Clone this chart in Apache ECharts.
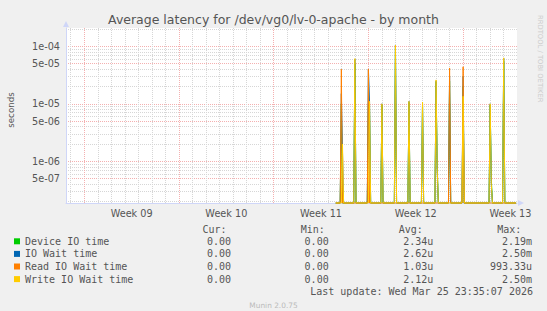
<!DOCTYPE html>
<html><head><meta charset="utf-8">
<script src="https://cdn.jsdelivr.net/npm/echarts@6/dist/echarts.min.js"></script>
<style>html,body{margin:0;padding:0;background:#F0F0F0;}#c{width:547px;height:311px;}</style>
</head><body><div id="c"></div>
<script>
// ---- data ----
const seriesNames = ['Device IO time', 'IO Wait time', 'Read IO Wait time', 'Write IO Wait time'];
const seriesColors = ['#00CC00', '#0066B3', '#FF8000', '#FFCC00'];
// 2-hour samples that are non-zero (all other samples are 0)
const sampleTimes = ['2026-03-13 00:00', '2026-03-13 02:00', '2026-03-14 00:00', '2026-03-15 00:00',
  '2026-03-15 02:00', '2026-03-16 00:00', '2026-03-17 00:00', '2026-03-18 00:00', '2026-03-19 00:00',
  '2026-03-20 00:00', '2026-03-20 02:00', '2026-03-21 00:00', '2026-03-22 00:00', '2026-03-24 00:00',
  '2026-03-24 02:00', '2026-03-25 00:00'];
const deviceIO  = [1.0e-5, 0, 5.0e-5, 1.0e-5, 8.0e-6, 9.5e-6, 1.0e-4, 1.05e-5, 1.0e-5, 2.4e-5, 9.0e-7, 2.5e-5, 2.0e-5, 9.5e-6, 5.0e-7, 5.5e-5];
const ioWait    = [1.5e-5, 1.5e-6, 6.0e-5, 4.0e-5, 1.1e-5, 1.0e-5, 1.05e-4, 1.1e-5, 1.05e-5, 2.5e-5, 7.0e-7, 3.0e-5, 3.0e-5, 1.0e-5, 4.0e-7, 6.2e-5];
const readWait  = [4.0e-5, 0, 0, 4.0e-5, 0, 0, 0, 0, 0, 0, 0, 4.2e-5, 4.4e-5, 0, 0, 0];
const writeWait = [0, 2.0e-6, 6.1e-5, 0, 1.1e-5, 1.0e-5, 1.05e-4, 1.1e-5, 1.07e-5, 2.6e-5, 8.0e-7, 0, 1.35e-5, 1.0e-5, 4.0e-7, 6.3e-5];
const dataStart = '2026-03-12 14:00';
const dataEnd = '2026-03-25 22:00';
const stepHours = 2;

const curValues = ['0.00', '0.00', '0.00', '0.00'];
const minValues = ['0.00', '0.00', '0.00', '0.00'];
const avgValues = ['2.34u', '2.62u', '1.03u', '2.12u'];
const maxValues = ['2.19m', '2.50m', '993.33u', '2.50m'];

const xStart = '2026-02-20 15:35:07';
const xEnd = '2026-03-25 23:35:07';
const weekStartTimes = ['2026-02-22 00:00', '2026-03-01 00:00', '2026-03-08 00:00', '2026-03-15 00:00', '2026-03-22 00:00'];
const weekLabelTimes = ['2026-02-25 12:00', '2026-03-04 12:00', '2026-03-11 12:00', '2026-03-18 12:00', '2026-03-25 12:00'];
const weekLabels = ['Week 09', 'Week 10', 'Week 11', 'Week 12', 'Week 13'];

const yMin = 1.884e-7, yMax = 2.08e-4;
const yLabelValues = [5e-7, 1e-6, 5e-6, 1e-5, 5e-5, 1e-4];
const yLabels = ['5e-07', '1e-06', '5e-06', '1e-05', '5e-05', '1e-04'];
const yMinorMultipliers = [2, 3, 4, 6, 7, 8, 9];

// ---- helpers ----
function T(s) {
  const [d, tm] = s.split(' ');
  const [Y, M, D] = d.split('-').map(Number);
  const [h, mi, se] = tm.split(':').map(Number);
  return Date.UTC(Y, M - 1, D, h, mi, se || 0);
}
const X0 = T(xStart), X1 = T(xEnd);
const STEP = stepHours * 3600000;

function buildSeries(values) {
  const map = new Map();
  map.set(T(dataStart), 0);
  map.set(T(dataEnd), 0);
  sampleTimes.forEach(s => {
    const t = T(s);
    if (!map.has(t - STEP)) map.set(t - STEP, 0);
    if (!map.has(t + STEP)) map.set(t + STEP, 0);
  });
  sampleTimes.forEach((s, i) => map.set(T(s), values[i]));
  const keys = Array.from(map.keys()).sort((a, b) => a - b);
  // zero is drawn on the floor of the log axis (as rrdtool does)
  return keys.map(k => [k, map.get(k) > 0 ? map.get(k) : yMin]);
}
const allValues = [deviceIO, ioWait, readWait, writeWait];

const weekStartMs = weekStartTimes.map(T);
const dayTicks = [];
for (let t = Math.ceil(X0 / 86400000) * 86400000; t <= X1; t += 86400000) {
  if (weekStartMs.indexOf(t) < 0) dayTicks.push(t);
}
const yMinor = [];
for (let e = -8; e <= -3; e++) {
  yMinorMultipliers.forEach(m => {
    const v = m * Math.pow(10, e);
    if (v >= yMin && v <= yMax) yMinor.push(v);
  });
}

const FONT = 'DejaVu Sans';
const MONO = 'DejaVu Sans Mono';
const TXT = '#555555';
const AXIS = '#CFD6F8';
const GRID_MINOR = '#D6D6D6';
const GRID_MAJOR = '#F4B0B0';

function nearestIndex(list, v, useLog) {
  let best = 0, bd = Infinity;
  list.forEach((x, i) => {
    const d = useLog ? Math.abs(Math.log10(x) - Math.log10(v)) : Math.abs(x - v);
    if (d < bd) { bd = d; best = i; }
  });
  return best;
}

const chart = echarts.init(document.getElementById('c'), null, {renderer: 'svg'});
chart.setOption({
  backgroundColor: '#F0F0F0',
  animation: false,
  title: {
    text: 'Average latency for /dev/vg0/lv-0-apache - by month',
    left: 'center', top: 13, padding: 0,
    textStyle: {fontFamily: FONT, fontSize: 12.5, fontWeight: 'normal', color: TXT}
  },
  grid: {left: 66, top: 28, width: 451, height: 175, show: true, backgroundColor: '#FFFFFF', borderWidth: 0, containLabel: false},
  xAxis: [{
    type: 'value', min: X0, max: X1, position: 'bottom',
    axisLine: {show: true, lineStyle: {color: AXIS, width: 1}, symbol: ['none', 'triangle'], symbolSize: [6, 6], symbolOffset: [0, 4]},
    axisTick: {show: false, customValues: dayTicks},
    splitLine: {show: true, lineStyle: {color: GRID_MINOR, type: 'dotted', width: 1}},
    axisLabel: {
      customValues: weekLabelTimes.map(T), margin: 5,
      fontFamily: FONT, fontSize: 9.7, color: TXT,
      formatter: v => weekLabels[nearestIndex(weekLabelTimes.map(T), v, false)]
    }
  }, {
    type: 'value', min: X0, max: X1, position: 'bottom',
    axisLine: {show: false}, axisLabel: {show: false},
    axisTick: {show: false, customValues: weekStartMs},
    splitLine: {show: true, lineStyle: {color: GRID_MAJOR, type: 'dotted', width: 1}}
  }],
  yAxis: [{
    type: 'log', logBase: 10, min: yMin, max: yMax, position: 'left',
    axisLine: {show: true, lineStyle: {color: AXIS, width: 1}, symbol: ['none', 'triangle'], symbolSize: [6, 6], symbolOffset: [0, 4]},
    axisTick: {show: false, customValues: yLabelValues},
    splitLine: {show: true, lineStyle: {color: GRID_MAJOR, type: 'dotted', width: 1}},
    axisLabel: {
      customValues: yLabelValues, margin: 6,
      fontFamily: FONT, fontSize: 9.7, color: TXT,
      formatter: v => { let x = Number(v); if (x < 0) x = Math.pow(10, x); return yLabels[nearestIndex(yLabelValues, x, true)]; }
    }
  }, {
    type: 'log', logBase: 10, min: yMin, max: yMax, position: 'left',
    axisLine: {show: false}, axisLabel: {show: false},
    axisTick: {show: false, customValues: yMinor},
    splitLine: {show: true, lineStyle: {color: GRID_MINOR, type: 'dotted', width: 1}}
  }],
  legend: {
    orient: 'vertical', left: 14, top: 235, padding: 0, itemGap: 0,
    itemWidth: 6, itemHeight: 6, icon: 'rect', selectedMode: false,
    data: seriesNames,
    textStyle: {
      fontFamily: MONO, fontSize: 10, color: TXT, lineHeight: 12.6,
      rich: {
        n: {width: 160, align: 'left', fontFamily: MONO, fontSize: 10, color: TXT, lineHeight: 12.6},
        c: {width: 46, align: 'right', fontFamily: MONO, fontSize: 10, color: TXT, lineHeight: 12.6},
        m: {width: 97.7, align: 'right', fontFamily: MONO, fontSize: 10, color: TXT, lineHeight: 12.6},
        a: {width: 104.7, align: 'right', fontFamily: MONO, fontSize: 10, color: TXT, lineHeight: 12.6},
        x: {width: 98.7, align: 'right', fontFamily: MONO, fontSize: 10, color: TXT, lineHeight: 12.6}
      }
    },
    formatter: name => {
      const i = seriesNames.indexOf(name);
      return '{n|' + name + '}{c|' + curValues[i] + '}{m|' + minValues[i] + '}{a|' + avgValues[i] + '}{x|' + maxValues[i] + '}';
    }
  },
  graphic: [
    {type: 'text', x: 11, y: 110, rotation: Math.PI / 2, style: {text: 'seconds', font: '8.7px "DejaVu Sans"', fill: TXT, align: 'center', verticalAlign: 'middle'}},
    {type: 'text', x: 540, y: 15, rotation: -Math.PI / 2, style: {text: 'RRDTOOL / TOBI OETIKER', font: '6.8px "DejaVu Sans"', fill: '#CCCCCC', align: 'left', verticalAlign: 'middle'}},
    {type: 'text', x: 202.4, y: 229.5, style: {text: 'Cur:', font: '10px "DejaVu Sans Mono"', fill: TXT, align: 'left', verticalAlign: 'middle'}},
    {type: 'text', x: 300.8, y: 229.5, style: {text: 'Min:', font: '10px "DejaVu Sans Mono"', fill: TXT, align: 'left', verticalAlign: 'middle'}},
    {type: 'text', x: 398.8, y: 229.5, style: {text: 'Avg:', font: '10px "DejaVu Sans Mono"', fill: TXT, align: 'left', verticalAlign: 'middle'}},
    {type: 'text', x: 497.2, y: 229.5, style: {text: 'Max:', font: '10px "DejaVu Sans Mono"', fill: TXT, align: 'left', verticalAlign: 'middle'}},
    {type: 'text', x: 533, y: 291.6, style: {text: 'Last update: Wed Mar 25 23:35:07 2026', font: '10px "DejaVu Sans Mono"', fill: TXT, align: 'right', verticalAlign: 'middle'}},
    {type: 'text', x: 273.5, y: 305, style: {text: 'Munin 2.0.75', font: '7.4px "DejaVu Sans"', fill: '#BBBBBB', align: 'center', verticalAlign: 'middle'}}
  ],
  series: seriesNames.map((name, i) => ({
    name: name, type: 'line', xAxisIndex: 0, yAxisIndex: 0,
    data: buildSeries(allValues[i]),
    showSymbol: false, symbol: 'none', clip: false,
    color: seriesColors[i],
    lineStyle: {width: 1, color: seriesColors[i]},
    itemStyle: {color: seriesColors[i]},
    emphasis: {disabled: true},
    z: 2 + i
  }))
});
</script>
</body></html>
